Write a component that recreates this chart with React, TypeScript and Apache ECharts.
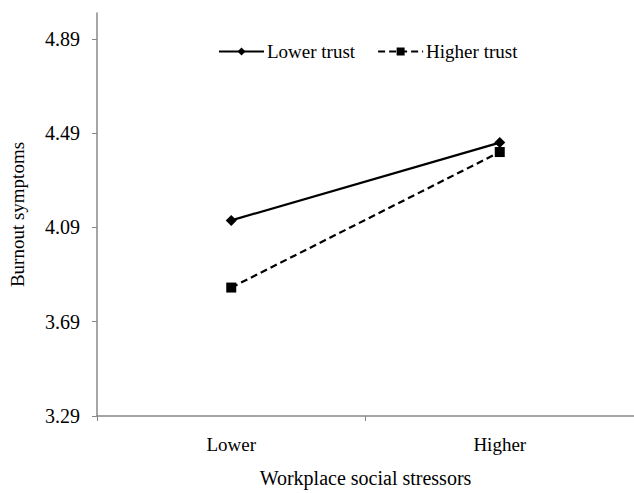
import React, { useEffect, useRef } from "react";
import * as echarts from "echarts";

const categories = ["Lower", "Higher"];
const lowerTrust = [4.12, 4.45];
const higherTrust = [3.835, 4.41];
const yTicks = [3.29, 3.69, 4.09, 4.49, 4.89];

const FONT = "Liberation Serif";

export default function App() {
  const ref = useRef<HTMLDivElement>(null);
  useEffect(() => {
    if (!ref.current) return;
    const chart = echarts.init(ref.current, null, { renderer: "svg" });
    chart.setOption({
      animation: false,
      backgroundColor: "#ffffff",
      textStyle: { fontFamily: FONT, color: "#000" },
      legend: {
        top: 37,
        left: 213,
        itemWidth: 45,
        itemHeight: 10,
        itemGap: 22,
        textStyle: { fontFamily: FONT, fontSize: 19, color: "#000", padding: [0, 0, 0, -2] },
        data: ["Lower trust", "Higher trust"],
      },
      grid: { left: 96, right: -3, top: 13, bottom: 71 },
      xAxis: {
        type: "category",
        data: categories,
        boundaryGap: true,
        name: "Workplace social stressors",
        nameLocation: "middle",
        nameGap: 52,
        nameTextStyle: { fontFamily: FONT, fontSize: 20, color: "#000" },
        axisLine: { lineStyle: { color: "#888", width: 1.5 } },
        axisTick: { show: true, length: 5, lineStyle: { color: "#888" } },
        axisLabel: { fontFamily: FONT, fontSize: 19, color: "#000", margin: 19 },
        splitLine: { show: false },
      },
      yAxis: {
        type: "value",
        min: 3.29,
        max: 5.0,
        interval: 0.4,
        name: "Burnout symptoms",
        nameLocation: "middle",
        nameGap: 70,
        nameRotate: 90,
        nameTextStyle: { fontFamily: FONT, fontSize: 19, color: "#000" },
        axisLine: { show: true, lineStyle: { color: "#888", width: 1.5 } },
        axisTick: {
          show: true,
          length: 5,
          lineStyle: { color: "#888" },
          customValues: yTicks,
        },
        axisLabel: {
          fontFamily: FONT,
          fontSize: 20,
          color: "#000",
          margin: 17,
          customValues: yTicks,
          formatter: (v: number) => v.toFixed(2),
        },
        splitLine: { show: false },
      },
      series: [
        {
          name: "Lower trust",
          type: "line",
          data: lowerTrust,
          symbol: "diamond",
          symbolSize: 11,
          lineStyle: { color: "#000", width: 2.2 },
          itemStyle: { color: "#000" },
        },
        {
          name: "Higher trust",
          type: "line",
          data: higherTrust,
          symbol: "rect",
          symbolSize: 10,
          lineStyle: { color: "#000", width: 2.2, type: [7, 4] },
          itemStyle: { color: "#000" },
        },
      ],
    });
    return () => chart.dispose();
  }, []);
  return (
    <div
      ref={ref}
      style={{ position: "fixed", left: 0, top: 0, width: 634, height: 493, background: "#fff" }}
    />
  );
}
